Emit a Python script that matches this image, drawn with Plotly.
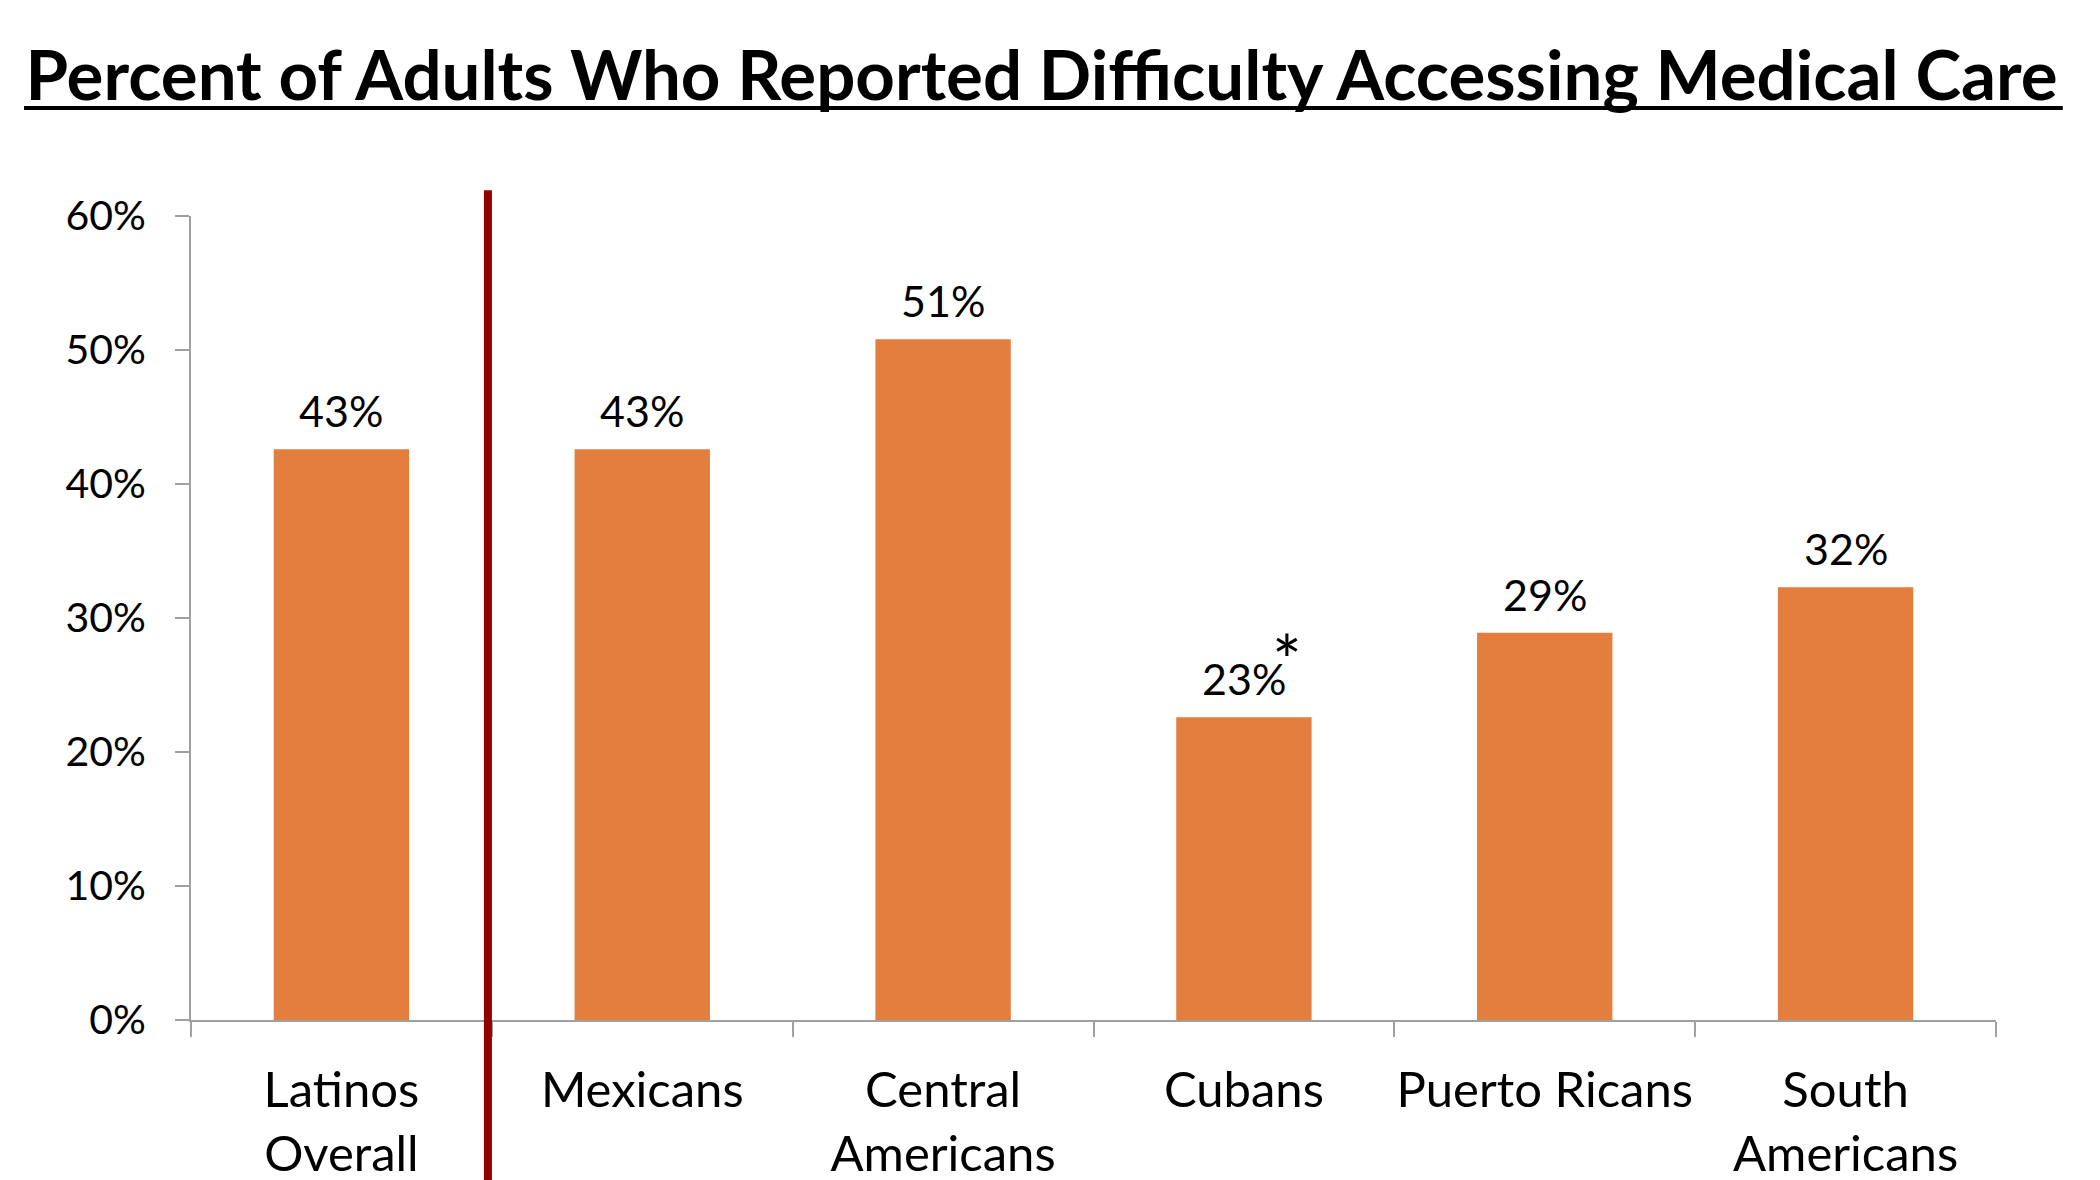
import plotly.graph_objects as go

# Survey results: share of adults reporting difficulty accessing medical care
groups = ["Latinos<br>Overall", "Mexicans", "Central<br>Americans", "Cubans",
          "Puerto Ricans", "South<br>Americans"]
pct = [0.426, 0.426, 0.508, 0.226, 0.289, 0.323]
flagged = ["Cubans"]  # groups marked with an asterisk

y_ticks = [0, 0.1, 0.2, 0.3, 0.4, 0.5, 0.6]

BAR = "#E47E3F"
AXIS = "#A0A0A0"
DIVIDER = "#920000"
FONT = "Lato"

fig = go.Figure(
    go.Bar(
        x=groups,
        y=pct,
        width=0.45,
        marker=dict(color=BAR, line=dict(width=0)),
        hoverinfo="skip",
    )
)

# value labels above each bar
for g, v in zip(groups, pct):
    fig.add_annotation(
        x=g, y=v, text=f"{v:.0%}", showarrow=False,
        yanchor="bottom", yshift=11,
        font=dict(family=FONT, size=43, color="black"),
    )
    if g in flagged:
        fig.add_annotation(
            x=g, y=v, text="*", showarrow=False,
            yanchor="bottom", yshift=14, xshift=43,
            font=dict(family=FONT, size=70, color="black"),
        )

# divider between the overall figure and the subgroups
fig.add_shape(
    type="line", xref="x", yref="paper",
    x0=0.487, x1=0.487, y0=-0.2, y1=1.032,
    line=dict(color=DIVIDER, width=8),
    layer="above",
)

# underline for the title
fig.add_shape(
    type="line", xref="paper", yref="paper",
    x0=-0.0925, x1=1.037, y0=1.1343, y1=1.1343,
    line=dict(color="black", width=4),
)

fig.update_layout(
    width=2100,
    height=1180,
    margin=dict(l=191, r=104, t=216, b=160),
    paper_bgcolor="white",
    plot_bgcolor="white",
    showlegend=False,
    title=dict(
        text="<b>Percent of Adults Who Reported Difficulty Accessing Medical Care</b>",
        font=dict(family=FONT, size=69, color="black"),
        x=0.496, xanchor="center",
        y=0.956, yref="container", yanchor="top",
    ),
    font=dict(family=FONT, color="black"),
)

fig.update_xaxes(
    type="category",
    range=[-0.5, 5.5],
    automargin=False,
    tickangle=0,
    showline=True, linecolor=AXIS, linewidth=2,
    ticks="outside", tickson="boundaries", ticklen=15,
    tickcolor=AXIS, tickwidth=1.5,
    tickfont=dict(family=FONT, size=49, color="black"),
    ticklabelstandoff=26,
    showgrid=False, zeroline=False,
)

fig.update_yaxes(
    range=[0, 0.6],
    automargin=False,
    tickvals=y_ticks,
    tickformat=".0%",
    showline=True, linecolor=AXIS, linewidth=2,
    ticks="outside", ticklen=14, tickcolor=AXIS, tickwidth=1.5,
    tickfont=dict(family=FONT, size=41, color="black"),
    ticklabelstandoff=21,
    showgrid=False, zeroline=False,
)

fig.write_html("out.html")
